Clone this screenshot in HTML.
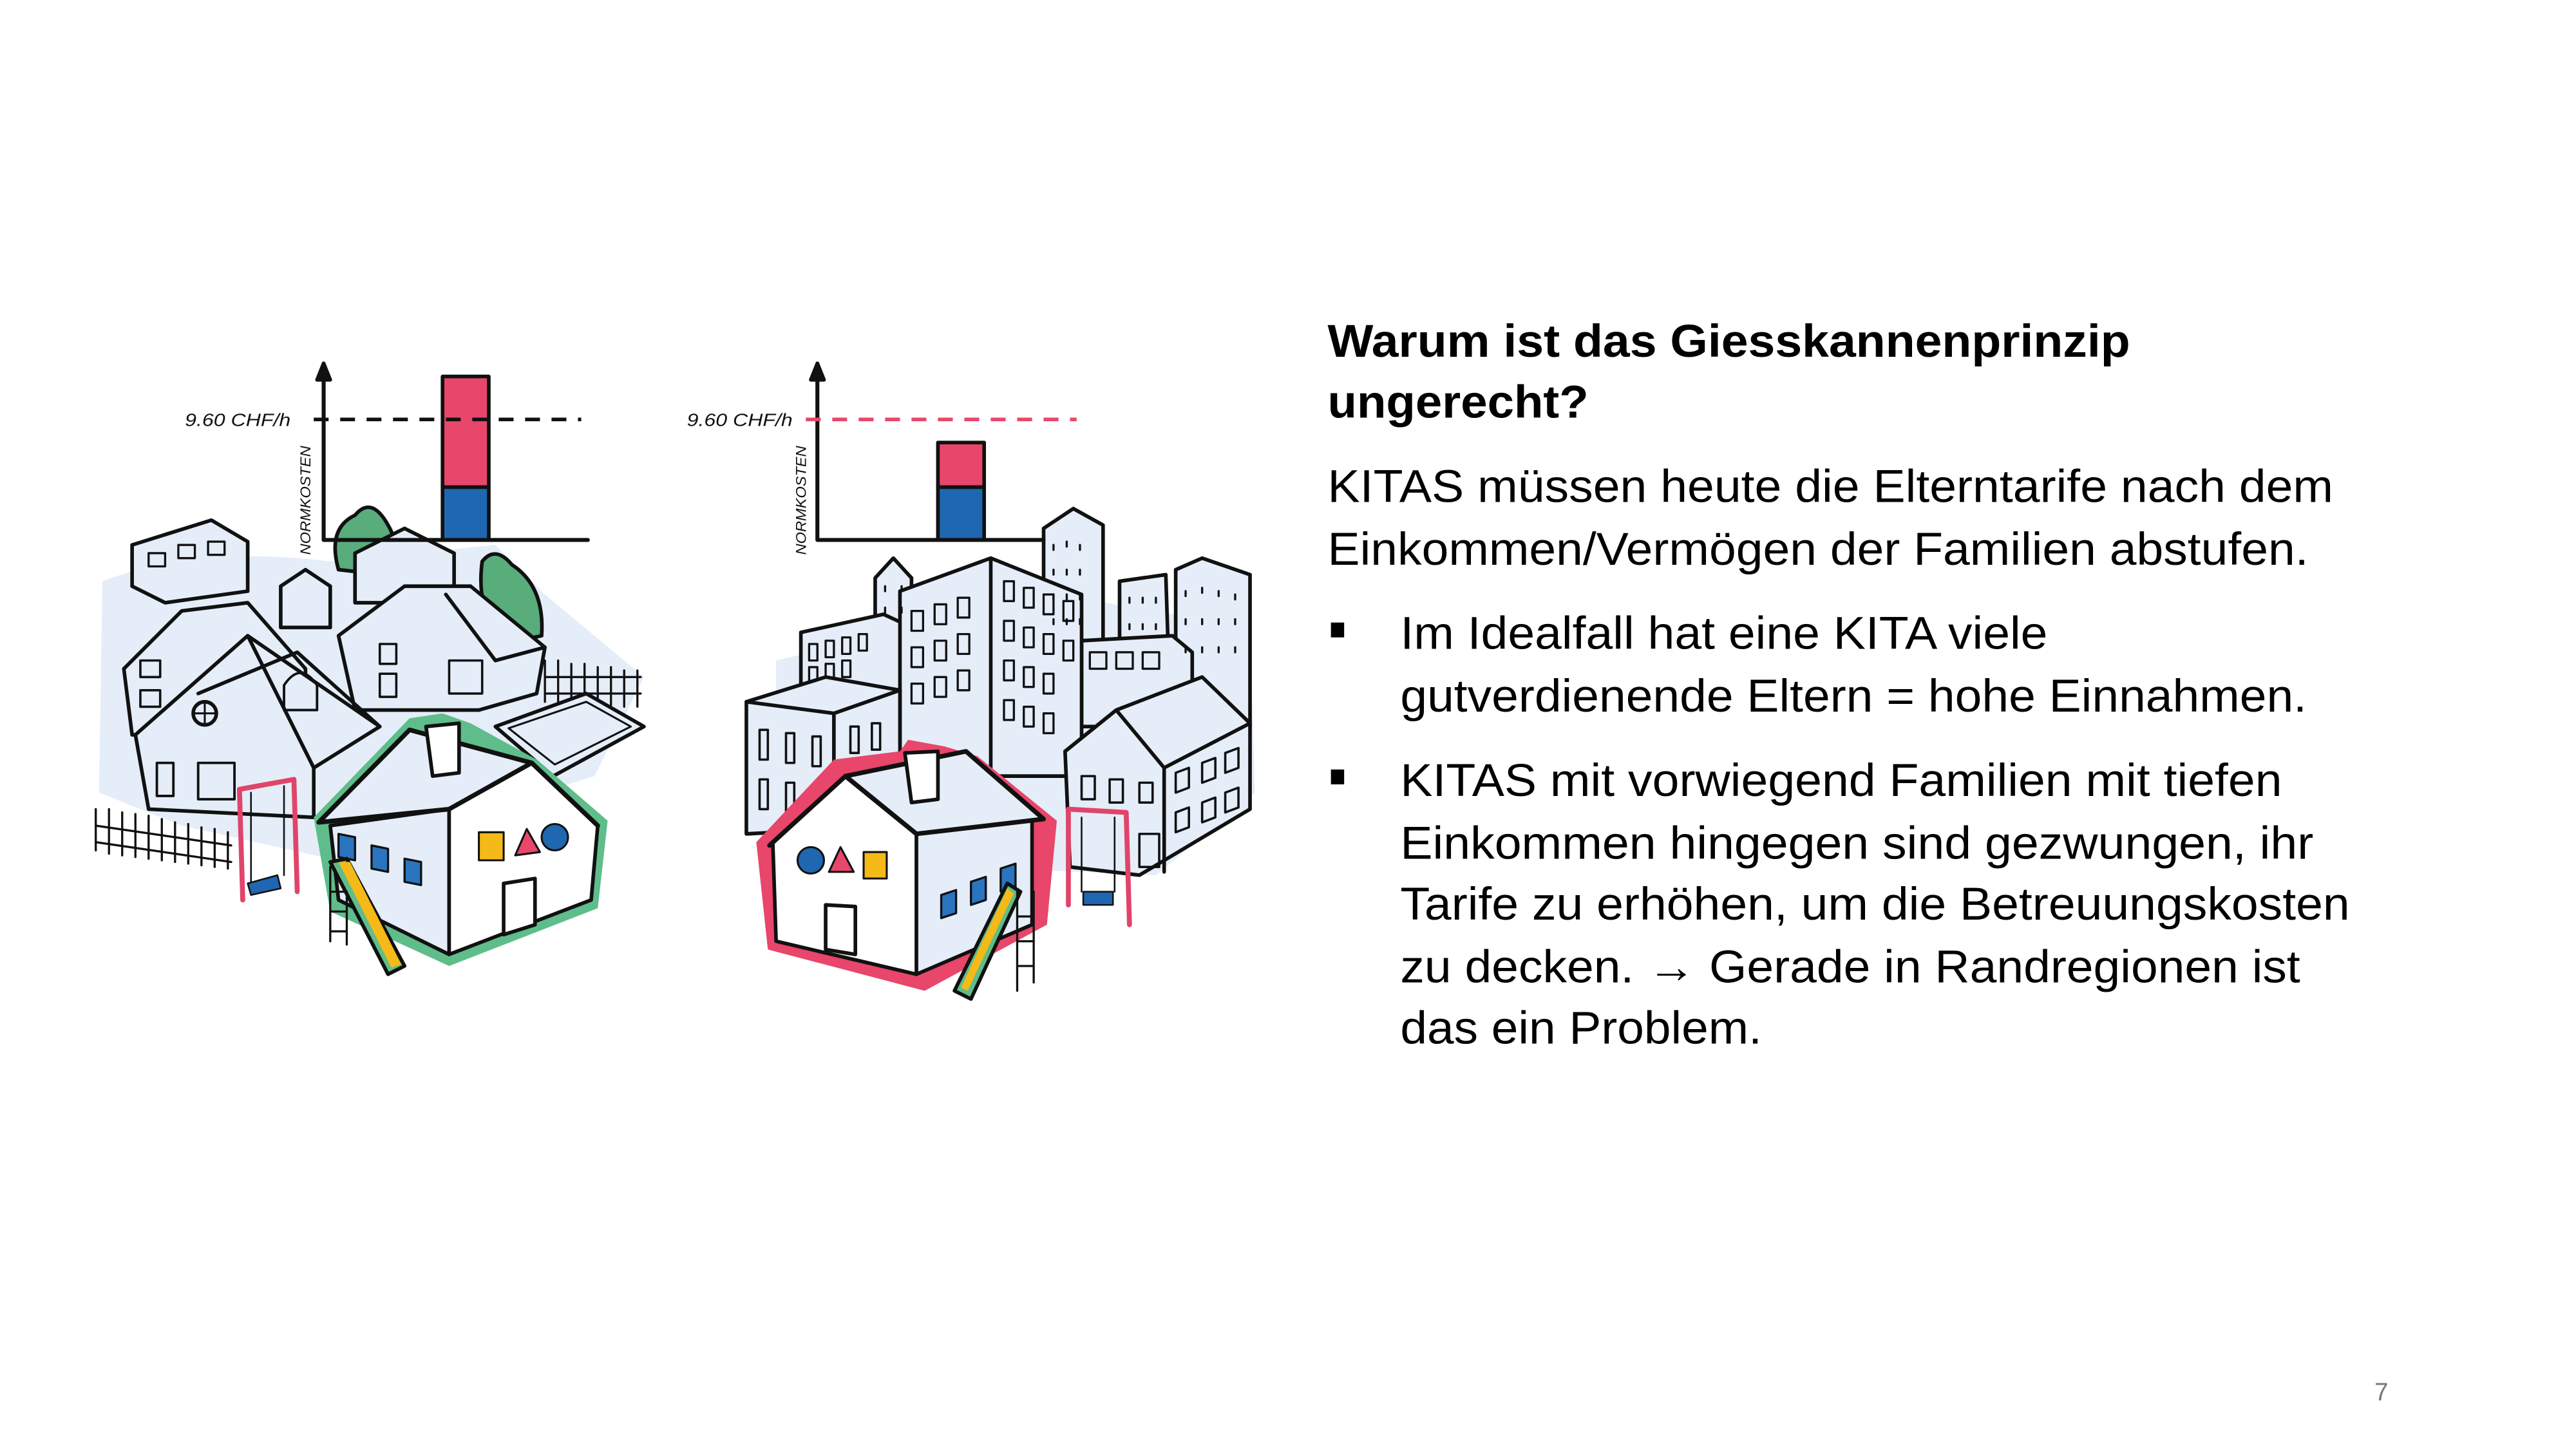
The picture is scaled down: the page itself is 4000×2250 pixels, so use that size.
<!DOCTYPE html>
<html><head><meta charset="utf-8"><style>
html,body{margin:0;padding:0;background:#fff;width:4000px;height:2250px;overflow:hidden}
svg{display:block}
text{font-family:"Liberation Sans",Arial,sans-serif}
</style></head><body>
<svg width="4000" height="2250" viewBox="0 0 1560 877.5" xmlns="http://www.w3.org/2000/svg">
<rect width="1560" height="877.5" fill="#fff"/>
<g stroke="#111" stroke-width="2.2" stroke-linejoin="round" stroke-linecap="round">
<!-- LEFT SCENE -->
<path d="M62,352 Q120,330 200,340 L300,330 L330,360 L390,410 L360,470 L200,520 L110,500 L60,480 Z" fill="#e4edf8" stroke="none"/>
<!-- back apartment -->
<path d="M80,330 L128,315 L150,328 L150,358 L100,365 L80,355 Z" fill="#e4edf8"/>
<path d="M90,335h10v8h-10zM108,330h10v8h-10zM126,328h10v8h-10z" fill="none" stroke-width="1.3"/>
<!-- trees -->
<path d="M205,345 Q198,320 215,312 Q225,300 235,318 Q245,335 232,348 Z" fill="#58ad7a"/>
<path d="M292,340 Q300,330 310,342 Q330,355 328,385 L305,390 Q288,370 292,340 Z" fill="#58ad7a"/>
<!-- small houses back -->
<path d="M215,335 L245,320 L275,335 L275,365 L215,365 Z" fill="#e4edf8"/>
<path d="M170,355 L185,345 L200,355 L200,380 L170,380 Z" fill="#e4edf8"/>
<!-- left mid house -->
<path d="M75,405 L110,370 L150,365 L185,405 L185,445 L80,445 Z" fill="#e4edf8"/>
<path d="M85,400h12v10h-12zM85,418h12v10h-12z" fill="none" stroke-width="1.4"/>
<!-- right house -->
<path d="M205,385 L245,355 L285,355 L330,392 L325,420 L290,430 L215,430 Z" fill="#e4edf8"/>
<path d="M270,360 L300,400 L330,392" fill="none"/>
<path d="M230,390h10v12h-10zM230,408h10v14h-10zM272,400h20v20h-20z" fill="none" stroke-width="1.4"/>
<!-- fence right -->
<path d="M330,400 V425 M338,400 V425 M346,402 V425 M354,402 V425 M362,404 V427 M370,404 V427 M378,406 V428 M386,406 V428 M330,410 H388 M330,420 H388" fill="none" stroke-width="1.3"/>
<!-- pool -->
<path d="M300,440 L355,420 L390,440 L335,470 Z" fill="#e4edf8"/>
<path d="M308,441 L355,425 L382,440 L336,463 Z" fill="none" stroke-width="1.2"/>
<!-- big left house -->
<path d="M82,445 L150,385 L230,440 L190,465 L190,495 L90,490 Z" fill="#e4edf8"/>
<path d="M150,385 L190,465 M120,420 L180,395 L230,440" fill="none"/>
<circle cx="124" cy="432" r="7" fill="none"/>
<path d="M124,425v14M117,432h14" stroke-width="1.2"/>
<path d="M172,415 Q182,400 192,415 V430 H172 Z" fill="none" stroke-width="1.5"/>
<path d="M95,462h10v20h-10zM120,462h22v22h-22z" fill="none" stroke-width="1.5"/>
<!-- fence left -->
<path d="M58,490 V515 M66,490 V517 M74,492 V518 M82,493 V519 M90,494 V520 M98,496 V521 M106,498 V522 M114,499 V523 M122,501 V524 M130,502 V525 M138,504 V526 M58,500 L140,512 M58,510 L140,522" fill="none" stroke-width="1.3"/>
<!-- swing left -->
<path d="M145,478 L178,472 L180,540 M145,478 L147,545" fill="none" stroke="#e0446a" stroke-width="3"/>
<path d="M152,480 V535 M172,476 V530" fill="none" stroke-width="1"/>
<path d="M150,535 L168,530 L170,538 L152,542 Z" fill="#1f67b0" stroke-width="1"/>
<!-- KITA left -->
<path d="M190,495 L248,435 L268,432 L285,438 L325,460 L368,497 L362,550 L272,585 L200,552 Z" fill="#5fbd8b" stroke="none"/>
<path d="M200,500 L272,490 L272,578 L205,545 Z" fill="#e4edf8"/>
<path d="M272,490 L322,462 L362,500 L358,545 L272,578 Z" fill="#fff"/>
<path d="M193,498 L248,442 L322,462 L272,490 Z" fill="#e4edf8" stroke-width="2.8"/>
<path d="M322,462 L362,500" fill="none" stroke-width="2.8"/>
<path d="M258,440 L278,438 L278,468 L262,470 Z" fill="#fff"/>
<path d="M205,505l10,2v14l-10,-2zM225,512l10,2v14l-10,-2zM245,520l10,2v14l-10,-2z" fill="#2a74c0" stroke-width="1.3"/>
<rect x="290" y="504" width="15" height="17" fill="#f5b918" stroke-width="1.2"/>
<path d="M312,518 L319,502 L327,516 Z" fill="#e8466a" stroke-width="1.2"/>
<circle cx="336" cy="507" r="8" fill="#1f67b0" stroke-width="1.2"/>
<path d="M305,535 L324,532 L324,560 L305,566 Z" fill="#fff"/>
<path d="M200,522 L210,520 L245,585 L235,590 Z" fill="#5fbd8b"/>
<path d="M205,522 L212,522 L243,584 L237,586 Z" fill="#f5b918" stroke="none"/>
<path d="M200,525 V570 M210,540 V572 M200,540H210M200,552H210M200,564H210" fill="none" stroke-width="1.3"/>

<!-- RIGHT SCENE -->
<path d="M470,400 L640,360 L757,380 L760,480 L700,530 L470,520 Z" fill="#e4edf8" stroke="none"/>
<path d="M632,320 L650,308 L668,318 L668,420 L632,420 Z" fill="#e4edf8"/>
<path d="M678,352 L706,348 L708,410 L678,410 Z" fill="#e4edf8"/>
<path d="M712,345 L728,338 L757,348 L757,440 L712,440 Z" fill="#e4edf8"/>
<path d="M530,350 L541,338 L552,350 L552,385 L530,385 Z" fill="#e4edf8"/>
<path d="M485,383 L535,372 L548,378 L548,418 L485,418 Z" fill="#e4edf8"/>
<path d="M655,388 L710,385 L722,395 L722,440 L655,440 Z" fill="#e4edf8"/>
<path d="M545,358 L600,338 L655,360 L655,470 L545,470 Z" fill="#e4edf8"/>
<path d="M600,338 V470" fill="none"/>
<g fill="none" stroke-width="1.3">
<path d="M552,370h7v12h-7zM566,366h7v12h-7zM580,362h7v12h-7zM552,392h7v12h-7zM566,388h7v12h-7zM580,384h7v12h-7zM552,414h7v12h-7zM566,410h7v12h-7zM580,406h7v12h-7z"/>
<path d="M608,352h6v12h-6zM620,356h6v12h-6zM632,360h6v12h-6zM644,364h6v12h-6zM608,376h6v12h-6zM620,380h6v12h-6zM632,384h6v12h-6zM644,388h6v12h-6zM608,400h6v12h-6zM620,404h6v12h-6zM632,408h6v12h-6zM608,424h6v12h-6zM620,428h6v12h-6zM632,432h6v12h-6z"/>
<path d="M490,390h5v10h-5zM500,388h5v10h-5zM510,386h5v10h-5zM520,384h5v10h-5zM490,404h5v10h-5zM500,402h5v10h-5zM510,400h5v10h-5z"/>
<path d="M660,395h10v10h-10zM676,395h10v10h-10zM692,395h10v10h-10z"/>
<path d="M638,330v3M646,328v3M654,330v3M638,345v3M646,345v3M654,345v3M638,360v3M646,360v3M654,360v3M638,375v3M646,375v3M654,375v3M718,358v3M728,356v3M738,358v3M748,360v3M718,375v3M728,375v3M738,375v3M748,375v3M718,392v3M728,392v3M738,392v3M748,392v3M684,362v3M692,362v3M700,362v3M684,378v3M692,378v3M700,378v3M536,355v3M546,355v3M536,368v3M546,368v3"/>
</g>
<!-- front-left building -->
<path d="M452,425 L500,410 L545,418 L545,500 L452,505 Z" fill="#e4edf8"/>
<path d="M452,425 L505,432 L545,418 M505,432 V500" fill="none"/>
<path d="M460,442h5v18h-5zM476,444h5v18h-5zM492,446h5v18h-5zM460,472h5v18h-5zM476,474h5v18h-5zM515,440h5v16h-5zM528,438h5v16h-5z" fill="none" stroke-width="1.4"/>
<!-- right house -->
<path d="M645,455 L676,430 L728,410 L757,438 L757,490 L690,530 L648,525 Z" fill="#e4edf8"/>
<path d="M676,430 L705,465 L757,438 M705,465 V528 M645,455 L676,430" fill="none"/>
<path d="M655,470h8v14h-8zM672,472h8v14h-8zM690,474h8v12h-8zM712,468l8,-3v12l-8,3zM728,462l8,-3v12l-8,3zM742,456l8,-3v12l-8,3zM712,492l8,-3v12l-8,3zM728,486l8,-3v12l-8,3zM742,480l8,-3v12l-8,3zM690,505h12v20h-12z" fill="none" stroke-width="1.4"/>
<!-- swing right -->
<path d="M647,490 L682,492 L684,560 M647,490 L647,548" fill="none" stroke="#e0446a" stroke-width="3"/>
<path d="M655,495 V540 M675,495 V540" fill="none" stroke-width="1"/>
<path d="M656,540 L674,540 L674,548 L656,548 Z" fill="#1f67b0" stroke-width="1"/>
<!-- KITA right -->
<path d="M458,510 L505,460 L545,455 L550,448 L572,452 L592,458 L640,497 L634,560 L560,600 L465,575 Z" fill="#e8466a" stroke="none"/>
<path d="M468,510 L512,470 L555,500 L555,590 L470,570 Z" fill="#fff"/>
<path d="M555,500 L625,495 L625,560 L555,590 Z" fill="#e4edf8"/>
<path d="M512,470 L585,455 L632,496 L555,505 Z" fill="#e4edf8" stroke-width="2.8"/>
<path d="M466,512 L512,470 L555,505" fill="none" stroke-width="2.8"/>
<path d="M548,456 L568,455 L568,484 L552,486 Z" fill="#fff"/>
<circle cx="491" cy="521" r="8" fill="#1f67b0" stroke-width="1.2"/>
<path d="M502,528 L509,513 L517,528 Z" fill="#e8466a" stroke-width="1.2"/>
<rect x="523" y="516" width="14" height="16" fill="#f5b918" stroke-width="1.2"/>
<path d="M500,548 L518,549 L518,578 L500,575 Z" fill="#fff"/>
<path d="M570,542l9,-3v14l-9,3zM588,534l9,-3v14l-9,3zM606,526l9,-3v14l-9,3z" fill="#2a74c0" stroke-width="1.3"/>
<path d="M610,535 L618,540 L588,605 L578,600 Z" fill="#5fbd8b"/>
<path d="M610,538 L614,541 L586,600 L582,598 Z" fill="#f5b918" stroke="none"/>
<path d="M616,540 V600 M626,540 V595 M616,555H626M616,570H626M616,585H626" fill="none" stroke-width="1.3"/>

<!-- charts -->
<rect x="268" y="228" width="28" height="67" fill="#e8466a" stroke-width="2.2"/>
<rect x="268" y="295" width="28" height="32" fill="#1f67b0" stroke-width="2.2"/>
<path d="M196,327 V226 M196,327 H356" fill="none" stroke-width="2.4"/>
<path d="M192,230 L196,220 L200,230 Z" fill="#111"/>
<path d="M190,254 H352" fill="none" stroke-dasharray="9,7" stroke-width="2.2" stroke-linecap="butt"/>
<rect x="568" y="268" width="28" height="27" fill="#e8466a" stroke-width="2.2"/>
<rect x="568" y="295" width="28" height="32" fill="#1f67b0" stroke-width="2.2"/>
<path d="M495,327 V226 M495,327 H632" fill="none" stroke-width="2.4"/>
<path d="M491,230 L495,220 L499,230 Z" fill="#111"/>
<path d="M488,254 H652" fill="none" stroke="#e8466a" stroke-dasharray="9,7" stroke-width="2.2" stroke-linecap="butt"/>
</g>
<g font-family="Liberation Sans, sans-serif" font-style="italic" fill="#111">
<text x="112" y="258" font-size="11" textLength="64" lengthAdjust="spacingAndGlyphs">9.60 CHF/h</text>
<text x="416" y="258" font-size="11" textLength="64" lengthAdjust="spacingAndGlyphs">9.60 CHF/h</text>
<text transform="translate(188,336) rotate(-90)" font-size="8.5" textLength="66" lengthAdjust="spacingAndGlyphs">NORMKOSTEN</text>
<text transform="translate(488,336) rotate(-90)" font-size="8.5" textLength="66" lengthAdjust="spacingAndGlyphs">NORMKOSTEN</text>
</g>

<!-- text -->
<g fill="#000" font-size="28">
<text x="804" y="216" font-weight="bold" textLength="486" lengthAdjust="spacingAndGlyphs">Warum ist das Giesskannenprinzip</text>
<text x="804" y="253" font-weight="bold" textLength="158" lengthAdjust="spacingAndGlyphs">ungerecht?</text>
<text x="804" y="304" textLength="609" lengthAdjust="spacingAndGlyphs">KITAS müssen heute die Elterntarife nach dem</text>
<text x="804" y="342" textLength="594" lengthAdjust="spacingAndGlyphs">Einkommen/Vermögen der Familien abstufen.</text>
<rect x="806" y="377" width="8" height="9"/>
<text x="848" y="393" textLength="392" lengthAdjust="spacingAndGlyphs">Im Idealfall hat eine KITA viele</text>
<text x="848" y="431" textLength="549" lengthAdjust="spacingAndGlyphs">gutverdienende Eltern = hohe Einnahmen.</text>
<rect x="806" y="466" width="8" height="9"/>
<text x="848" y="482" textLength="534" lengthAdjust="spacingAndGlyphs">KITAS mit vorwiegend Familien mit tiefen</text>
<text x="848" y="520" textLength="553" lengthAdjust="spacingAndGlyphs">Einkommen hingegen sind gezwungen, ihr</text>
<text x="848" y="557" textLength="575" lengthAdjust="spacingAndGlyphs">Tarife zu erhöhen, um die Betreuungskosten</text>
<text x="848" y="595" textLength="545" lengthAdjust="spacingAndGlyphs">zu decken. → Gerade in Randregionen ist</text>
<text x="848" y="632" textLength="219" lengthAdjust="spacingAndGlyphs">das ein Problem.</text>
<text x="1438" y="848" font-size="15" fill="#777">7</text>
</g>
</svg>
</body></html>
